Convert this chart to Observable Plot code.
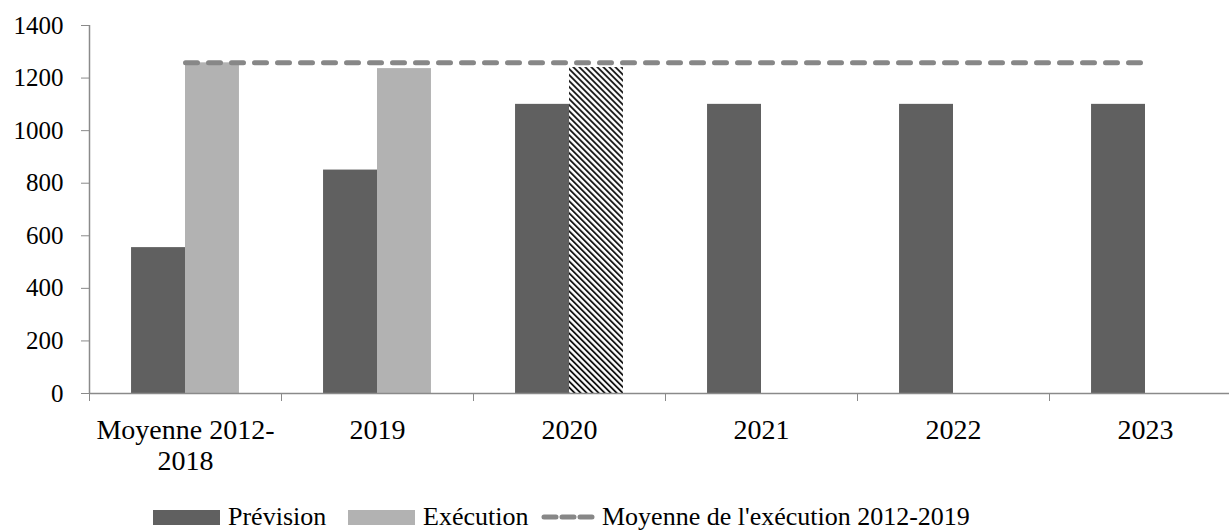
<!DOCTYPE html>
<html>
<head>
<meta charset="utf-8">
<script src="https://cdn.jsdelivr.net/npm/d3@7"></script>
<script src="https://cdn.jsdelivr.net/npm/@observablehq/plot@0.6"></script>
<style>
  html, body { margin: 0; padding: 0; background: white; overflow: hidden; width: 1229px; height: 530px; }
  #legend { position: relative; height: 35px; font-family: 'Liberation Serif', serif; font-size: 26px; line-height: 24px; color: black; }
  #legend .item { position: absolute; top: 10px; display: flex; align-items: center; height: 24px; white-space: nowrap; }
  #legend .sw { display: inline-block; width: 67px; height: 15px; margin-right: 8px; }
</style>
</head>
<body>
<div id="chart"></div>
<div id="legend"></div>
<script>
const categories = ["Moyenne 2012-\n2018", "2019", "2020", "2021", "2022", "2023"];
const prevision = [555, 850, 1100, 1100, 1100, 1100];
const execution = [1258, 1236, 1240, null, null, null];
const executionEstimated = [false, false, true, false, false, false];
const moyenneExecution = 1258;
const yTicks = [0, 200, 400, 600, 800, 1000, 1200, 1400];
const seriesNames = ["Prévision", "Exécution", "Moyenne de l'exécution 2012-2019"];

const C_PREV = "#606060", C_EXEC = "#b2b2b2", C_LINE = "#878787", C_AXIS = "#8a8a8a";
const GAP = 0.219; // outer gap fraction of each category band

const rows = categories.map((c, i) => ({i, cat: c, prev: prevision[i], exec: execution[i], est: executionEstimated[i]}));
const execReal = rows.filter(d => d.exec != null && !d.est);
const execEst = rows.filter(d => d.exec != null && d.est);
const lineRows = rows.map(d => ({x: d.i + 0.5, y: moyenneExecution}));

const defs = () => {
  const s = 4.25;
  const g = d3.create("svg:defs");
  const p = g.append("pattern").attr("id", "hatch").attr("patternUnits", "userSpaceOnUse")
    .attr("width", s).attr("height", s).attr("patternTransform", "rotate(-45)");
  p.append("rect").attr("width", s).attr("height", s).attr("fill", "white");
  p.append("line").attr("x1", 1).attr("y1", 0).attr("x2", 1).attr("y2", s)
    .attr("stroke", "black").attr("stroke-width", 1.7);
  return g.node();
};

const chart = Plot.plot({
  width: 1229,
  height: 495,
  marginLeft: 89,
  marginRight: -12,
  marginTop: 25,
  marginBottom: 102,
  style: {fontFamily: "'Liberation Serif', serif", fontSize: "25px", background: "white", color: "black", overflow: "visible"},
  x: {type: "linear", domain: [0, categories.length], axis: null},
  y: {domain: [0, 1400], axis: null},
  marks: [
    defs,
    Plot.rect(rows, {x1: d => d.i + GAP, x2: d => d.i + 0.5, y1: 0, y2: "prev", fill: C_PREV}),
    Plot.rect(execReal, {x1: d => d.i + 0.5, x2: d => d.i + 1 - GAP, y1: 0, y2: "exec", fill: C_EXEC}),
    Plot.rect(execEst, {x1: d => d.i + 0.5, x2: d => d.i + 1 - GAP, y1: 0, y2: "exec", fill: "url(#hatch)"}),
    Plot.ruleX([0], {stroke: C_AXIS, strokeWidth: 1.5}),
    Plot.ruleY([0], {stroke: C_AXIS, strokeWidth: 1.5}),
    Plot.axisY({ticks: yTicks, tickSize: 8, tickPadding: 18, stroke: C_AXIS, fill: "black", tickFormat: d => String(d), label: null}),
    Plot.axisX({ticks: d3.range(0, categories.length + 1), tickSize: 8, stroke: C_AXIS, tickFormat: () => "", label: null}),
    Plot.axisX({ticks: rows.map(d => d.i + 0.5), tickSize: 0, tickPadding: 24, fill: "black", lineHeight: 1.1, fontSize: 28,
      tickFormat: v => categories[Math.round(v - 0.5)], label: null}),
    Plot.line(lineRows, {x: "x", y: "y", stroke: C_LINE, strokeWidth: 5, strokeDasharray: "12,11", strokeLinecap: "round"})
  ]
});
document.getElementById("chart").appendChild(chart);

const legend = document.getElementById("legend");
const items = [
  {left: 153, html: `<span class="sw" style="background:${C_PREV}"></span>${seriesNames[0]}`},
  {left: 348, html: `<span class="sw" style="background:${C_EXEC}"></span>${seriesNames[1]}`},
  {left: 541, html: `<svg width="54" height="10" style="margin-right:7px"><line x1="3" y1="5" x2="51" y2="5" stroke="${C_LINE}" stroke-width="5" stroke-dasharray="12,6" stroke-linecap="round"/></svg>${seriesNames[2]}`}
];
for (const it of items) {
  const d = document.createElement("div");
  d.className = "item";
  d.style.left = it.left + "px";
  d.innerHTML = it.html;
  legend.appendChild(d);
}
</script>
</body>
</html>
